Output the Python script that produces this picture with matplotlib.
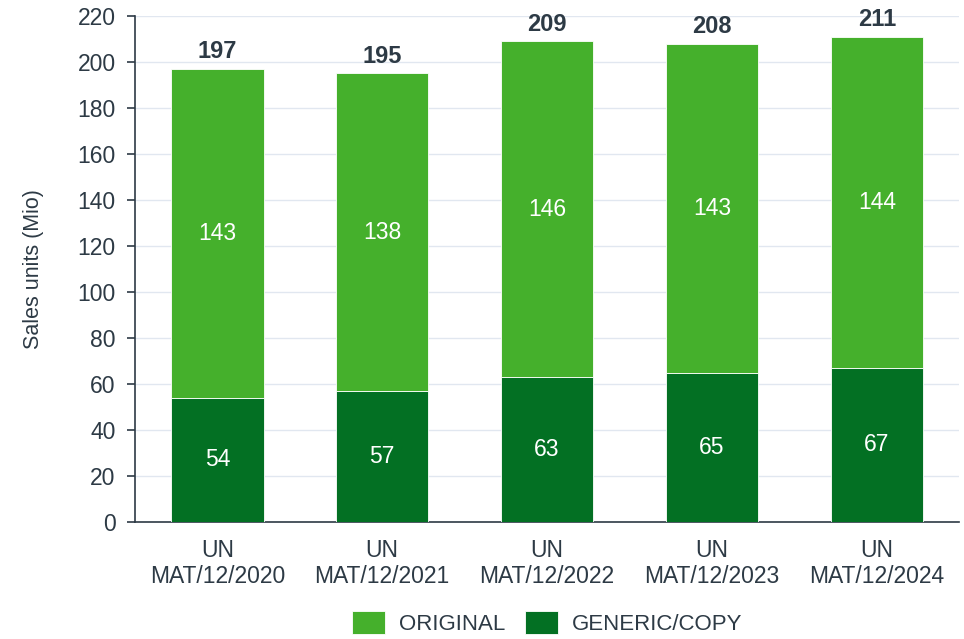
import numpy as np
import matplotlib.pyplot as plt

plt.rcParams['font.family'] = ['Liberation Sans', 'DejaVu Sans']

categories = ['UN\nMAT/12/2020', 'UN\nMAT/12/2021', 'UN\nMAT/12/2022',
              'UN\nMAT/12/2023', 'UN\nMAT/12/2024']
generic = [54, 57, 63, 65, 67]
original = [143, 138, 146, 143, 144]
totals = [197, 195, 209, 208, 211]

c_orig = '#45b02c'
c_gen = '#037023'
c_text = '#2d3a45'

fig = plt.figure(figsize=(9.64, 6.39), dpi=100)
ax = fig.add_axes([0.140, 0.183, 0.855, 0.792])

x = np.arange(len(categories))
b1 = ax.bar(x, generic, width=0.56, color=c_gen, label='GENERIC/COPY',
            edgecolor='white', linewidth=0.6, zorder=3)
b2 = ax.bar(x, original, width=0.56, bottom=generic, color=c_orig,
            label='ORIGINAL', edgecolor='white', linewidth=0.6, zorder=3)

for i in range(len(x)):
    ax.text(x[i], generic[i] / 2, str(generic[i]), ha='center', va='center',
            color='white', fontsize=16.5, zorder=4)
    ax.text(x[i], generic[i] + original[i] / 2, str(original[i]),
            ha='center', va='center', color='white', fontsize=16.5, zorder=4)
    ax.text(x[i], totals[i] + 2.5, str(totals[i]), ha='center', va='bottom',
            color=c_text, fontsize=17, fontweight='bold', zorder=4)

ax.set_xlim(-0.5, 4.5)
ax.set_ylim(0, 220)
ax.set_yticks(np.arange(0, 221, 20))
ax.set_xticks(x)
ax.set_xticklabels(categories)
ax.tick_params(axis='x', length=0, pad=12, labelsize=16.5, labelcolor=c_text)
ax.tick_params(axis='y', length=6, width=1.2, color=c_text, pad=8,
               labelsize=16.5, labelcolor=c_text)
ax.grid(axis='y', color='#e1e7f0', linewidth=1, zorder=0)
for s in ['top', 'right']:
    ax.spines[s].set_visible(False)
for s in ['left', 'bottom']:
    ax.spines[s].set_color(c_text)
    ax.spines[s].set_linewidth(1.2)
ax.set_ylabel('Sales units (Mio)', fontsize=15.5, color=c_text, labelpad=24)

handles = [b2, b1]
ax.legend(handles, ['ORIGINAL', 'GENERIC/COPY'], loc='center',
          bbox_to_anchor=(0.5, -0.2), ncol=2, frameon=False,
          fontsize=16, labelcolor=c_text, handlelength=1.5, handleheight=1.2,
          columnspacing=0.9, handletextpad=0.6, borderaxespad=0)

fig.savefig('out.png', dpi=100)
